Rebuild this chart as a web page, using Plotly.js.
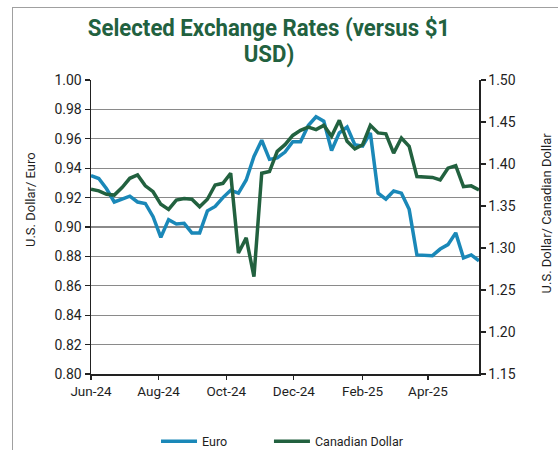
<!DOCTYPE html>
<html>
<head>
<meta charset="utf-8">
<script src="https://cdn.plot.ly/plotly-3.0.1.min.js"></script>
<style>
  html, body { margin: 0; padding: 0; background: #fff; }
  #wrap { position: relative; width: 558px; height: 450px; overflow: hidden; }
  #chart { position: absolute; left: 0; top: 0; width: 558px; height: 450px; }
  #frame { position: absolute; left: 12px; top: 7px; width: 600px; height: 500px;
           border-left: 1.5px solid #a0a0a0; border-top: 1.5px solid #a0a0a0; pointer-events: none; }
</style>
</head>
<body>
<div id="wrap">
  <div id="chart"></div>
  <div id="frame"></div>
</div>
<script>
const dates = [
  '2024-06-01','2024-06-08','2024-06-15','2024-06-22','2024-06-29',
  '2024-07-06','2024-07-13','2024-07-20','2024-07-27',
  '2024-08-03','2024-08-10','2024-08-17','2024-08-24','2024-08-31',
  '2024-09-07','2024-09-14','2024-09-21','2024-09-28',
  '2024-10-05','2024-10-12','2024-10-19','2024-10-26',
  '2024-11-02','2024-11-09','2024-11-16','2024-11-23','2024-11-30',
  '2024-12-07','2024-12-14','2024-12-21','2024-12-28',
  '2025-01-04','2025-01-11','2025-01-18','2025-01-25',
  '2025-02-01','2025-02-08','2025-02-15','2025-02-22',
  '2025-03-01','2025-03-08','2025-03-15','2025-03-22','2025-03-29',
  '2025-04-05','2025-04-12','2025-04-19','2025-04-26',
  '2025-05-03','2025-05-10','2025-05-17'
];
const euro = [
  0.935,0.933,0.926,0.917,0.919,0.921,0.917,0.916,0.907,0.893,
  0.905,0.902,0.9025,0.896,0.896,0.911,0.914,0.920,0.925,0.923,
  0.932,0.948,0.959,0.946,0.947,0.951,0.958,0.958,0.969,0.975,
  0.972,0.952,0.964,0.968,0.956,0.955,0.964,0.923,0.919,0.9245,
  0.923,0.912,0.881,0.8805,0.8805,0.885,0.888,0.896,0.879,0.881,0.877
];
const cad = [
  1.370,1.368,1.364,1.363,1.372,1.383,1.387,1.374,1.367,1.352,
  1.346,1.357,1.359,1.358,1.349,1.358,1.375,1.377,1.389,1.294,
  1.312,1.266,1.389,1.391,1.415,1.423,1.434,1.440,1.444,1.441,
  1.446,1.433,1.452,1.427,1.418,1.423,1.446,1.437,1.436,1.413,
  1.431,1.421,1.385,1.384,1.384,1.381,1.395,1.398,1.373,1.374,1.369
];
const xTickVals = ['2024-06-01','2024-08-01','2024-10-01','2024-12-01','2025-02-01','2025-04-01'];
const xTickText = ['Jun-24','Aug-24','Oct-24','Dec-24','Feb-25','Apr-25'];
const seriesNames = ['Euro','Canadian Dollar'];
const titleText = 'Selected Exchange Rates (versus $1<br>USD)';
const leftTitle = 'U.S. Dollar/ Euro';
const rightTitle = 'U.S. Dollar/ Canadian Dollar';

const FONT = 'Roboto, "Liberation Sans", sans-serif';
const EURO_C = '#1a88b8';
const CAD_C = '#22613f';
const TXT = '#1e1e1e';

const traces = [
  { x: dates, y: euro, name: seriesNames[0], type: 'scatter', mode: 'lines',
    line: { color: EURO_C, width: 3.5 }, yaxis: 'y', legend: 'legend' },
  { x: dates, y: cad, name: seriesNames[1], type: 'scatter', mode: 'lines',
    line: { color: CAD_C, width: 3.5 }, yaxis: 'y2', legend: 'legend2' }
];

const legendBase = { orientation: 'h', xref: 'container', yref: 'container',
  xanchor: 'left', y: 0.052, yanchor: 'top', bgcolor: 'rgba(0,0,0,0)',
  font: { family: FONT, size: 12.5, color: TXT }, itemwidth: 36 };

const layout = {
  width: 558, height: 450,
  margin: { l: 91, r: 78.5, t: 80, b: 76 },
  paper_bgcolor: 'rgba(0,0,0,0)', plot_bgcolor: 'rgba(0,0,0,0)',
  font: { family: FONT, size: 14, color: TXT },
  title: { text: titleText, x: 0.482, xref: 'container', xanchor: 'center',
           y: 0.92, yref: 'container', yanchor: 'top',
           font: { family: FONT, size: 24, color: CAD_C, weight: 'bold' } },
  showlegend: true,
  legend: Object.assign({}, legendBase, { x: 0.2796 }),
  legend2: Object.assign({}, legendBase, { x: 0.482 }),
  xaxis: {
    type: 'date', range: ['2024-06-01', '2025-05-17'],
    tickvals: xTickVals, ticktext: xTickText,
    showgrid: false, zeroline: false,
    showline: true, linecolor: '#222', linewidth: 1.5,
    ticks: 'outside', ticklen: 4, tickcolor: '#222', tickwidth: 1.2,
    tickfont: { family: FONT, size: 13.5, color: TXT }
  },
  yaxis: {
    range: [0.80, 1.00], dtick: 0.02, tick0: 0.80, tickformat: '.2f',
    showgrid: true, gridcolor: '#8a8a8a', gridwidth: 1.2, zeroline: false,
    showline: true, linecolor: '#222', linewidth: 1.5,
    ticks: 'outside', ticklen: 5, tickcolor: '#222', tickwidth: 1.2,
    tickfont: { family: FONT, size: 14, color: TXT }
  },
  yaxis2: {
    overlaying: 'y', side: 'right',
    range: [1.15, 1.50], dtick: 0.05, tick0: 1.15, tickformat: '.2f',
    showgrid: false, zeroline: false,
    showline: true, linecolor: '#222', linewidth: 1.5,
    ticks: 'outside', ticklen: 5, tickcolor: '#222', tickwidth: 1.2,
    tickfont: { family: FONT, size: 14, color: TXT }
  },
  annotations: [
    { text: leftTitle, xref: 'paper', yref: 'paper', x: -0.1545, y: 0.592,
      textangle: -90, showarrow: false, xanchor: 'center', yanchor: 'middle',
      font: { family: FONT, size: 13, color: TXT } },
    { text: rightTitle, xref: 'paper', yref: 'paper', x: 1.174, y: 0.548,
      textangle: -90, showarrow: false, xanchor: 'center', yanchor: 'middle',
      font: { family: FONT, size: 13, color: TXT } }
  ]
};

Plotly.newPlot('chart', traces, layout, { staticPlot: true, displayModeBar: false }).then(function (gd) {
  const t = gd.querySelector('.g-gtitle');
  if (t) {
    // tighten the line spacing of the two-line title
    const lines = t.querySelectorAll('tspan.line');
    for (let i = 1; i < lines.length; i++) lines[i].setAttribute('dy', '1.08em');
    // narrow the title horizontally to mimic the condensed typeface
    const bb = t.getBBox();
    const cx = bb.x + bb.width / 2;
    t.setAttribute('transform', 'translate(' + cx + ',0) scale(0.925,1) translate(' + (-cx) + ',0)');
  }
});
</script>
</body>
</html>
